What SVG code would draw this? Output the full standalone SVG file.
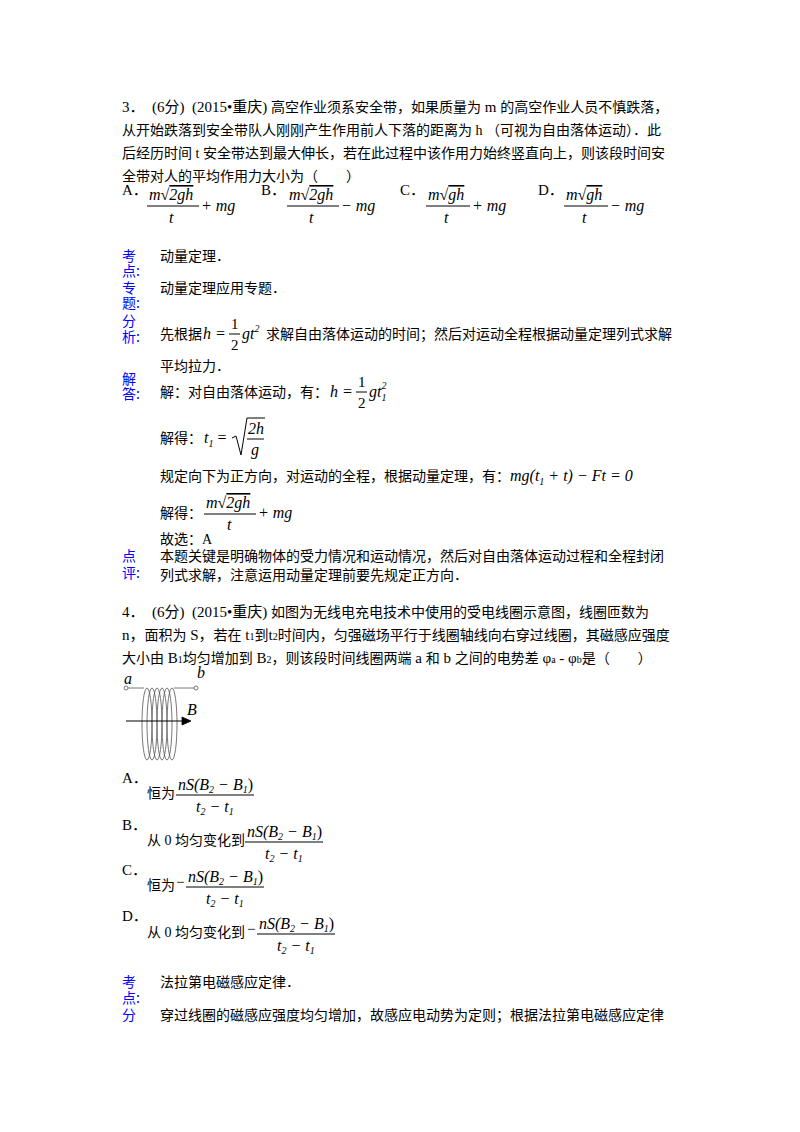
<svg xmlns="http://www.w3.org/2000/svg" width="800" height="1132" viewBox="0 0 800 1132">
<style>
text{font-family:"Liberation Serif","Noto Sans CJK SC",serif;font-size:15px;fill:#000}
.c{font-family:"Noto Sans CJK SC",sans-serif;font-size:14px}
.b{fill:#0000ff;font-family:"Noto Sans CJK SC",sans-serif;font-size:14px}
.i{font-style:italic;font-size:16px}
.s{font-size:10px}
line{stroke:#000;stroke-width:1}
</style>
<rect width="800" height="1132" fill="#fff"/>
<g id="q3">
<text x="122" y="112" xml:space="preserve">3．  (6分)  (2015•重庆) <tspan class="c">高空作业须系安全带，如果质量为</tspan> m <tspan class="c">的高空作业人员不慎跌落，</tspan></text>
<text x="122" y="135" class="c">从开始跌落到安全带队人刚刚产生作用前人下落的距离为<tspan font-family="Liberation Serif"> h </tspan>（可视为自由落体运动）．此</text>
<text x="122" y="158" class="c">后经历时间<tspan font-family="Liberation Serif"> t </tspan>安全带达到最大伸长，若在此过程中该作用力始终竖直向上，则该段时间安</text>
<text x="122" y="181" class="c">全带对人的平均作用力大小为（　　）</text>
<g id="opts3">
<text x="122" y="195">A．</text>
<text x="149" y="200" class="i">m√<tspan text-decoration="overline">2gh</tspan></text>
<line x1="147" y1="206" x2="199" y2="206"/>
<text x="169" y="223" class="i">t</text>
<text x="201" y="211" class="i">+ mg</text>
<text x="261" y="195">B．</text>
<text x="289" y="200" class="i">m√<tspan text-decoration="overline">2gh</tspan></text>
<line x1="287" y1="206" x2="339" y2="206"/>
<text x="309" y="223" class="i">t</text>
<text x="341" y="211" class="i">− mg</text>
<text x="400" y="195">C．</text>
<text x="428" y="200" class="i">m√<tspan text-decoration="overline">gh</tspan></text>
<line x1="426" y1="206" x2="470" y2="206"/>
<text x="444" y="223" class="i">t</text>
<text x="472" y="211" class="i">+ mg</text>
<text x="538" y="195">D．</text>
<text x="566" y="200" class="i">m√<tspan text-decoration="overline">gh</tspan></text>
<line x1="564" y1="206" x2="608" y2="206"/>
<text x="582" y="223" class="i">t</text>
<text x="610" y="211" class="i">− mg</text>
</g>
<g id="sol3">
<text x="122" y="261" class="b">考</text><text x="122" y="276" class="b">点:</text>
<text x="160" y="261" class="c">动量定理．</text>
<text x="122" y="293" class="b">专</text><text x="122" y="308" class="b">题:</text>
<text x="160" y="293" class="c">动量定理应用专题．</text>
<text x="122" y="326" class="b">分</text><text x="122" y="342" class="b">析:</text>
<text x="160" y="339" class="c">先根据</text>
<text x="203" y="339" class="i">h =</text>
<text x="231" y="329">1</text><line x1="229" y1="334" x2="240" y2="334"/><text x="231" y="350">2</text>
<text x="242" y="339" class="i">gt<tspan class="s" dy="-7">2</tspan></text>
<text x="266" y="339" class="c">求解自由落体运动的时间；然后对运动全程根据动量定理列式求解</text>
<text x="160" y="371" class="c">平均拉力．</text>
<text x="122" y="384" class="b">解</text><text x="122" y="399" class="b">答:</text>
<text x="160" y="397" class="c">解：对自由落体运动，有：</text>
<text x="330" y="397" class="i">h =</text>
<text x="358" y="387">1</text><line x1="356" y1="392" x2="367" y2="392"/><text x="358" y="408">2</text>
<text x="369" y="397" class="i">gt<tspan class="s" dy="4">1</tspan><tspan class="s" dx="-5" dy="-12">2</tspan></text>
<text x="160" y="443" class="c">解得：</text>
<text x="204" y="443" class="i">t<tspan class="s" dy="4">1</tspan><tspan dy="-4" font-style="normal"> =</tspan></text>
<path d="M232 438 L236 436 L241 455 L247 418 L265 418" fill="none" stroke="#000"/>
<text x="248" y="434" class="i">2h</text><line x1="247" y1="439" x2="264" y2="439"/><text x="251" y="455" class="i">g</text>
<text x="160" y="481" class="c">规定向下为正方向，对运动的全程，根据动量定理，有：</text>
<text x="510" y="481" class="i">mg(t<tspan class="s" dy="4">1</tspan><tspan dy="-4"> + t) − Ft = 0</tspan></text>
<text x="160" y="518" class="c">解得：</text>
<text x="206" y="508" class="i">m√<tspan text-decoration="overline">2gh</tspan></text>
<line x1="204" y1="514" x2="256" y2="514"/>
<text x="227" y="530" class="i">t</text>
<text x="258" y="518" class="i">+ mg</text>
<text x="160" y="544" class="c">故选：<tspan font-family="Liberation Serif">A</tspan></text>
<text x="122" y="561" class="b">点</text><text x="122" y="578" class="b">评:</text>
<text x="160" y="561" class="c">本题关键是明确物体的受力情况和运动情况，然后对自由落体运动过程和全程封闭</text>
<text x="160" y="580" class="c">列式求解，注意运用动量定理前要先规定正方向．</text>
</g>
</g>
<g id="q4">
<text x="122" y="617" xml:space="preserve">4．  (6分)  (2015•重庆) <tspan class="c">如图为无线电充电技术中使用的受电线圈示意图，线圈匝数为</tspan></text>
<text x="122" y="640" xml:space="preserve">n，<tspan class="c">面积为</tspan> S，<tspan class="c">若在</tspan> t<tspan class="s">1</tspan><tspan class="c">到</tspan>t<tspan class="s">2</tspan><tspan class="c">时间内，匀强磁场平行于线圈轴线向右穿过线圈，其磁感应强度</tspan></text>
<text x="122" y="663" xml:space="preserve"><tspan class="c">大小由</tspan> B<tspan class="s">1</tspan><tspan class="c">均匀增加到</tspan> B<tspan class="s">2</tspan><tspan class="c">，则该段时间线圈两端</tspan> a <tspan class="c">和</tspan> b <tspan class="c">之间的电势差</tspan> φ<tspan class="s">a</tspan> - φ<tspan class="s">b</tspan><tspan class="c">是（　　）</tspan></text>
<g id="coil" fill="none" stroke="#555" stroke-width="0.8">
<circle cx="126" cy="688" r="2"/><circle cx="196" cy="688" r="2"/>
<path d="M128 688 H144 M174 688 H194"/>
<ellipse cx="147" cy="724" rx="5" ry="36"/>
<ellipse cx="152" cy="724" rx="5" ry="36"/>
<ellipse cx="157" cy="724" rx="5" ry="36"/>
<ellipse cx="162" cy="724" rx="5" ry="36"/>
<ellipse cx="167" cy="724" rx="5" ry="36"/>
<ellipse cx="172" cy="724" rx="5" ry="36"/>
<line x1="126" y1="721" x2="188" y2="721" stroke="#000"/>
<path d="M182 717 L191 721 L182 725 Z" fill="#000" stroke="#000"/>
</g>
<text x="124" y="684" class="i" font-size="10">a</text>
<text x="197" y="678" class="i" font-size="10">b</text>
<text x="187" y="715" class="i" font-size="11">B</text>
<g id="opts4">
<text x="122" y="783">A．</text>
<text x="147" y="798" class="c">恒为</text>
<text x="178" y="790" class="i">nS(B<tspan class="s" dy="3">2</tspan><tspan dy="-3"> − B</tspan><tspan class="s" dy="3">1</tspan><tspan dy="-3" font-style="normal">)</tspan></text>
<line x1="176" y1="795" x2="254" y2="795"/>
<text x="196" y="812" class="i">t<tspan class="s" dy="3">2</tspan><tspan dy="-3"> − t</tspan><tspan class="s" dy="3">1</tspan></text>
<text x="122" y="830">B．</text>
<text x="147" y="845" class="c">从<tspan font-family="Liberation Serif"> 0 </tspan>均匀变化到</text>
<text x="247" y="837" class="i">nS(B<tspan class="s" dy="3">2</tspan><tspan dy="-3"> − B</tspan><tspan class="s" dy="3">1</tspan><tspan dy="-3" font-style="normal">)</tspan></text>
<line x1="245" y1="842" x2="323" y2="842"/>
<text x="265" y="859" class="i">t<tspan class="s" dy="3">2</tspan><tspan dy="-3"> − t</tspan><tspan class="s" dy="3">1</tspan></text>
<text x="122" y="875">C．</text>
<text x="147" y="890" class="c">恒为</text>
<text x="176" y="887">−</text>
<text x="188" y="882" class="i">nS(B<tspan class="s" dy="3">2</tspan><tspan dy="-3"> − B</tspan><tspan class="s" dy="3">1</tspan><tspan dy="-3" font-style="normal">)</tspan></text>
<line x1="186" y1="887" x2="264" y2="887"/>
<text x="206" y="904" class="i">t<tspan class="s" dy="3">2</tspan><tspan dy="-3"> − t</tspan><tspan class="s" dy="3">1</tspan></text>
<text x="122" y="921">D．</text>
<text x="147" y="937" class="c">从<tspan font-family="Liberation Serif"> 0 </tspan>均匀变化到</text>
<text x="247" y="934">−</text>
<text x="259" y="929" class="i">nS(B<tspan class="s" dy="3">2</tspan><tspan dy="-3"> − B</tspan><tspan class="s" dy="3">1</tspan><tspan dy="-3" font-style="normal">)</tspan></text>
<line x1="257" y1="934" x2="335" y2="934"/>
<text x="277" y="951" class="i">t<tspan class="s" dy="3">2</tspan><tspan dy="-3"> − t</tspan><tspan class="s" dy="3">1</tspan></text>
</g>
<g id="sol4">
<text x="122" y="987" class="b">考</text><text x="122" y="1003" class="b">点:</text>
<text x="160" y="987" class="c">法拉第电磁感应定律．</text>
<text x="122" y="1020" class="b">分</text>
<text x="160" y="1020" class="c">穿过线圈的磁感应强度均匀增加，故感应电动势为定则；根据法拉第电磁感应定律</text>
</g>
</g>
</svg>
